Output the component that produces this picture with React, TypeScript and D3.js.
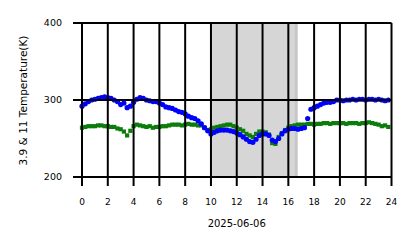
import React from "react";
import * as d3 from "d3";

const hours: number[] = Array.from({ length: 96 }, (_, i) => i * 0.25);

const blueValues: number[] = [
  292, 295, 298, 300, 301, 302, 303, 304, 303, 302, 300, 298, 294, 296, 290, 292,
  297, 301, 303, 302, 300, 299, 298, 298, 296, 294, 291, 290, 289, 287, 285, 284,
  282, 279, 277, 276, 273, 269, 264, 260, 256, 258, 260, 261, 261, 261, 260, 259,
  257, 255, 252, 249, 246, 245, 249, 254, 256, 256, 254, 248, 246, 250, 256, 260,
  262, 263, 263, 262, 263, 264, 276, 288, 290, 292, 294, 296, 297, 297, 298, 300,
  300, 299, 300, 300, 301, 300, 301, 301, 300, 301, 301, 300, 301, 300, 299, 300,
];

const greenValues: number[] = [
  264, 265, 266, 266, 266, 267, 267, 266, 266, 265, 265, 263, 262, 259, 254, 260,
  266, 268, 267, 266, 265, 266, 264, 265, 265, 266, 266, 267, 268, 268, 268, 267,
  268, 269, 268, 268, 267, 267, 264, 261, 262, 264, 265, 266, 267, 268, 268, 266,
  264, 262, 260, 256, 254, 252, 256, 259, 259, 258, 255, 244, 243, 252, 257, 261,
  264, 266, 267, 268, 268, 268, 269, 269, 268, 269, 269, 270, 270, 269, 270, 270,
  270, 270, 269, 270, 270, 270, 269, 270, 270, 271, 270, 269, 268, 266, 267, 265,
];

const xTicks: number[] = [0, 2, 4, 6, 8, 10, 12, 14, 16, 18, 20, 22, 24];
const yTicks: number[] = [200, 300, 400];
const shadeSpan: [number, number] = [10, 16.75];
const shadeEdge: [number, number] = [16.5, 16.68];
const dateLabel = "2025-06-06";
const yLabel = "3.9 & 11 Temperature(K)";

export default function App() {
  const W = 418;
  const H = 248;
  const x = d3.scaleLinear().domain([0, 24]).range([82, 391.5]);
  const y = d3.scaleLinear().domain([200, 400]).range([177, 23]);
  const font = "DejaVu Sans, sans-serif";
  const tickLen = 9;

  return (
    <svg
      width={W}
      height={H}
      style={{ position: "absolute", left: 0, top: 0, background: "#fff" }}
      xmlns="http://www.w3.org/2000/svg"
    >
      <rect
        x={x(shadeSpan[0])}
        y={y(400)}
        width={x(shadeSpan[1]) - x(shadeSpan[0])}
        height={y(200) - y(400)}
        fill="#d6d6d6"
      />
      <rect
        x={x(shadeEdge[0])}
        y={y(400)}
        width={x(shadeEdge[1]) - x(shadeEdge[0])}
        height={y(200) - y(400)}
        fill="#c6c6c6"
      />
      {hours.map((h, i) => (
        <rect
          key={"g" + i}
          x={x(h) - 2.1}
          y={y(greenValues[i]) - 2.1}
          width={4.2}
          height={4.2}
          fill="#0b7d0b"
        />
      ))}
      {hours.map((h, i) => (
        <circle key={"b" + i} cx={x(h)} cy={y(blueValues[i])} r={2.6} fill="#0000ff" />
      ))}
      {xTicks.map((t) => (
        <line
          key={"vx" + t}
          x1={x(t)}
          x2={x(t)}
          y1={y(400)}
          y2={y(200) + tickLen}
          stroke="#000"
          strokeWidth={2}
        />
      ))}
      {yTicks.map((t) => (
        <line
          key={"hy" + t}
          x1={x(0) - tickLen}
          x2={x(24)}
          y1={y(t)}
          y2={y(t)}
          stroke="#000"
          strokeWidth={2}
        />
      ))}
      {xTicks.map((t) => (
        <text
          key={"xt" + t}
          x={x(t)}
          y={204.5}
          textAnchor="middle"
          fontFamily={font}
          fontSize={9}
          fill="#000"
        >
          {t}
        </text>
      ))}
      {yTicks.map((t) => (
        <text
          key={"yt" + t}
          x={62}
          y={y(t) + 3.4}
          textAnchor="end"
          fontFamily={font}
          fontSize={9.5}
          fill="#000"
        >
          {t}
        </text>
      ))}
      <text
        x={236.7}
        y={227}
        textAnchor="middle"
        fontFamily={font}
        fontSize={10}
        fill="#000"
      >
        {dateLabel}
      </text>
      <text
        transform={`translate(26.5, ${(33 + 168) / 2}) rotate(-90)`}
        textAnchor="middle"
        fontFamily={font}
        fontSize={10.5}
        fill="#000"
      >
        {yLabel}
      </text>
    </svg>
  );
}
